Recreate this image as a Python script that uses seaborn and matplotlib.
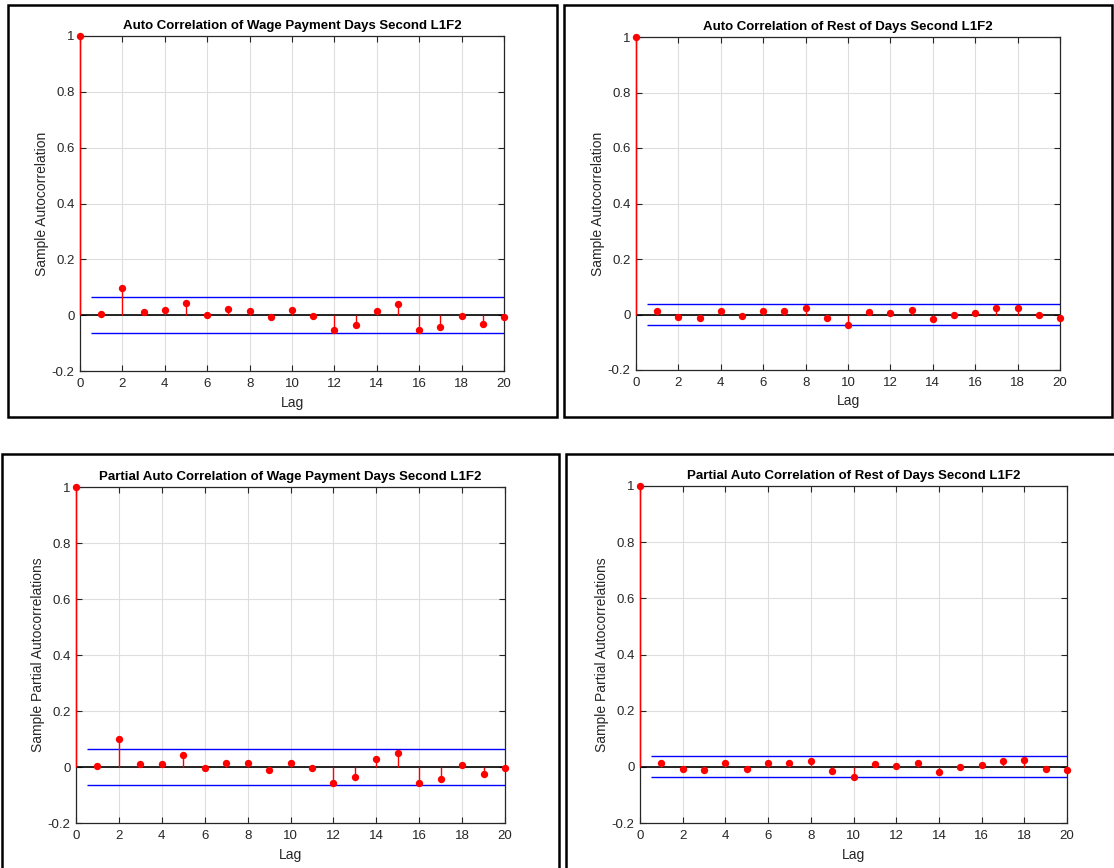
import numpy as np
import pandas as pd
import matplotlib
matplotlib.use("Agg")
import matplotlib.pyplot as plt
import seaborn as sns
from matplotlib.patches import Rectangle

sns.set_theme(style="white")
plt.rcParams['font.family'] = ['Liberation Sans', 'DejaVu Sans']

lags = list(range(0, 21))

acf_wage = [1.0, 0.004, 0.099, 0.011, 0.019, 0.042, 0.000, 0.021, 0.014, -0.006, 0.018,
            -0.002, -0.054, -0.036, 0.015, 0.039, -0.054, -0.043, -0.002, -0.033, -0.008]
acf_rest = [1.0, 0.012, -0.008, -0.011, 0.011, -0.006, 0.014, 0.013, 0.022, -0.013, -0.037,
            0.008, 0.004, 0.016, -0.017, -0.002, 0.004, 0.022, 0.024, -0.002, -0.011]
pacf_wage = [1.0, 0.005, 0.101, 0.012, 0.011, 0.042, -0.004, 0.013, 0.015, -0.011, 0.014,
             -0.002, -0.058, -0.035, 0.029, 0.049, -0.057, -0.044, 0.008, -0.026, -0.004]
pacf_rest = [1.0, 0.012, -0.009, -0.012, 0.012, -0.008, 0.014, 0.013, 0.020, -0.014, -0.037,
             0.009, 0.004, 0.015, -0.018, -0.002, 0.005, 0.022, 0.025, -0.006, -0.011]

bounds = [0.0635, 0.0365, 0.0645, 0.037]

titles = ["Auto Correlation of Wage Payment Days Second L1F2",
          "Auto Correlation of Rest of Days Second L1F2",
          "Partial Auto Correlation of Wage Payment Days Second L1F2",
          "Partial Auto Correlation of Rest of Days Second L1F2"]
ylabels = ["Sample Autocorrelation", "Sample Autocorrelation",
           "Sample Partial Autocorrelations", "Sample Partial Autocorrelations"]
xlabel = "Lag"
xticks = list(range(0, 21, 2))
yticks = [-0.2, 0, 0.2, 0.4, 0.6, 0.8, 1]
ytick_labels = ["-0.2", "0", "0.2", "0.4", "0.6", "0.8", "1"]

W, H = 1114, 868
fig = plt.figure(figsize=(W / 100, H / 100), dpi=100)
fig.patch.set_facecolor("white")

# panel frames (pixel coords: left, top, right, bottom)
frames = [(8, 5, 557, 417), (564, 5, 1112, 417), (2, 454, 559, 880), (566, 454, 1125, 880)]
for (l, t, r, b) in frames:
    fig.patches.append(Rectangle((l / W, 1 - b / H), (r - l) / W, (b - t) / H,
                                 transform=fig.transFigure, fill=False,
                                 edgecolor="black", linewidth=1.8, zorder=0))

# axes positions in pixels: left, top, right, bottom
axpos = [(80, 36, 504, 371), (636, 37, 1060, 370), (76, 487, 505, 823), (640, 486, 1067, 823)]
series = [acf_wage, acf_rest, pacf_wage, pacf_rest]

for i in range(4):
    l, t, r, b = axpos[i]
    ax = fig.add_axes([l / W, 1 - b / H, (r - l) / W, (b - t) / H])
    vals = series[i]
    df = pd.DataFrame({"lag": lags, "val": vals})
    ax.vlines(df["lag"], 0, df["val"], color="red", linewidth=1.0, zorder=3)
    sns.scatterplot(data=df, x="lag", y="val", ax=ax, color="red", s=28,
                    edgecolor="red", linewidth=0, zorder=4, legend=False)
    for coll in ax.collections:
        coll.set_clip_on(False)
    ax.axhline(0, color="black", linewidth=1.2, zorder=2)
    ax.hlines([bounds[i], -bounds[i]], 0.5, 20, color="blue", linewidth=1.0, zorder=2)
    ax.set_xlim(0, 20)
    ax.set_ylim(-0.2, 1)
    ax.set_xticks(xticks)
    ax.set_yticks(yticks)
    ax.set_yticklabels(ytick_labels)
    ax.grid(True, color="#dedede", linewidth=0.8)
    ax.set_axisbelow(True)
    ax.tick_params(direction="in", length=4, width=0.8, top=True, right=True,
                   bottom=True, left=True, labelsize=9.5, colors="#262626")
    ax.tick_params(axis="x", pad=5)
    ax.tick_params(axis="y", pad=4)
    for sp in ax.spines.values():
        sp.set_color("#262626")
        sp.set_linewidth(0.9)
    ax.set_title(titles[i], fontsize=9.5, fontweight="bold", pad=5, color="black")
    ax.set_xlabel(xlabel, fontsize=10, color="#262626", labelpad=4)
    ax.set_ylabel(ylabels[i], fontsize=10, color="#262626", labelpad=2)

fig.savefig("out.png", dpi=100)
